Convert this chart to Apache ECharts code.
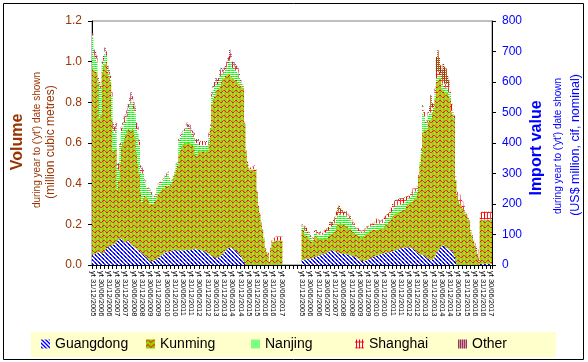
<!DOCTYPE html>
<html><head><meta charset="utf-8">
<script src="https://cdn.jsdelivr.net/npm/echarts@6/dist/echarts.min.js"></script>
<style>html,body{margin:0;padding:0;background:#fff}#c{width:588px;height:362px}</style>
</head><body><div id="c"></div>
<script>
const dateLabels = ['yt 31/12/2005','yt 30/06/2006','yt 31/12/2006','yt 30/06/2007','yt 31/12/2007','yt 30/06/2008',
  'yt 31/12/2008','yt 30/06/2009','yt 31/12/2009','yt 30/06/2010','yt 31/12/2010','yt 30/06/2011',
  'yt 31/12/2011','yt 30/06/2012','yt 31/12/2012','yt 30/06/2013','yt 31/12/2013','yt 30/06/2014',
  'yt 31/12/2014','yt 30/06/2015','yt 31/12/2015','yt 30/06/2016','yt 31/12/2016','yt 30/06/2017'];
const seriesNames = ['Guangdong','Kunming','Nanjing','Shanghai','Other'];

// Volume (million cubic metres), monthly year-to-date, Dec 2005 .. Jun 2017
const volGuangdong = [
 .05,.052,.055,.058,.062,.065,.06,.058,.06,.07,
 .08,.088,.09,.092,.095,.1,.105,.11,.118,.125,
 .13,.128,.12,.112,.112,.118,.12,.11,.1,.095,
 .09,.085,.08,.075,.07,.062,.058,.052,.045,.04,
 .032,.025,.018,.015,.02,.025,.028,.03,.035,.04,
 .045,.05,.058,.062,.065,.062,.065,.068,.07,.072,
 .074,.072,.07,.072,.074,.072,.07,.072,.074,.075,
 .074,.072,.074,.076,.078,.08,.078,.076,.075,.072,
 .07,.068,.066,.062,.058,.052,.048,.045,.042,.038,
 .035,.034,.038,.042,.048,.055,.062,.07,.078,.082,
 .085,.084,.082,.078,.072,.068,.06,.052,.045,.035,
 .02,.008,0,0,0,0,0,0,0,0,
 0,0,0,0,0,0,0,0,0,0,
 0,0,0,0,0,0,0,0,0];
const volKunming = [
 .92,.908,.895,.892,.838,.655,.68,.892,.92,.92,
 .92,.862,.84,.808,.625,.46,.455,.46,.252,.295,
 .37,.452,.48,.508,.528,.542,.55,.55,.56,.575,
 .57,.545,.47,.425,.38,.298,.252,.278,.295,.3,
 .298,.295,.282,.285,.28,.285,.292,.31,.315,.32,
 .325,.33,.322,.328,.325,.328,.325,.332,.34,.358,
 .376,.398,.42,.478,.486,.508,.52,.528,.526,.525,
 .526,.528,.516,.514,.502,.46,.462,.484,.485,.488,
 .49,.492,.494,.498,.502,.538,.622,.745,.778,.792,
 .825,.826,.832,.838,.852,.865,.858,.86,.862,.858,
 .855,.846,.838,.842,.838,.842,.84,.838,.835,.84,
 .85,.682,.56,.5,.48,.47,.47,.47,.47,.46,
 .36,.29,.25,.21,.17,.13,.08,.065,.05,.016,
 .08,.11,.115,.12,.12,.12,.12,.12,.12];
const volNanjing = [
 .15,.07,.07,.05,.01,.17,.13,.03,.03,.05,
 .03,.01,.01,.01,.11,.11,.09,.1,.11,.05,
 .08,.08,.08,.08,.07,.07,.09,.13,.15,.13,
 .11,.12,.12,.15,.14,.1,.14,.12,.07,.045,
 .045,.055,.06,.05,.035,.025,.025,.035,.045,.045,
 .035,.035,.045,.045,.05,.06,.035,.008,.008,.008,
 .008,.025,.016,.06,.07,.06,.06,.06,.075,.08,
 .07,.07,.06,.05,.05,.06,.06,.035,.03,.03,
 .03,.03,.03,.03,.03,.04,.01,.04,.04,.05,
 .04,.03,.03,.05,.045,.02,.03,.03,.035,.05,
 .07,.07,.05,.05,.05,.045,.045,.03,.02,.01,
 .006,.005,.002,.002,.002,.002,.002,.002,.002,.002,
 .001,.001,.001,.001,.001,.001,.001,.001,.001,.001,
 .001,.001,.001,.001,.001,.001,.001,.001,.001];
const volShanghai = [
 .01,.01,.015,.015,.005,.005,.005,.01,.01,.01,
 .01,.01,.01,.01,.01,.01,.01,.01,.01,.015,
 .01,.01,.01,.015,.015,.015,.015,.015,.02,.015,
 .015,.015,.015,.015,.015,.02,.02,.01,.005,.003,
 .003,.003,.007,.007,.003,.003,.003,.003,.003,.003,
 .003,.003,.003,.003,.005,.005,.003,.001,.001,.001,
 .001,.003,.002,.005,.005,.005,.005,.005,.01,.01,
 .01,.01,.01,.01,.01,.01,.01,.015,.015,.015,
 .015,.015,.015,.015,.015,.015,.005,.01,.01,.01,
 .01,.01,.01,.02,.015,.01,.01,.01,.015,.015,
 .02,.02,.015,.015,.015,.015,.015,.01,.005,.003,
 .002,.003,.002,.006,.006,.006,.006,.01,.015,.006,
 .003,.003,.003,.003,.003,.003,.003,.008,.008,.002,
 .003,.008,.013,.013,.018,.018,.018,.018,.018];
const volOther = [
 .01,.02,.015,.015,.005,.005,.005,.01,.01,.02,
 .01,.01,.01,.01,.01,.02,.02,.02,.01,.015,
 .01,.01,.01,.015,.015,.015,.015,.015,.02,.015,
 .015,.015,.015,.015,.015,.01,.01,.01,.005,.002,
 .002,.002,.003,.003,.002,.002,.002,.002,.002,.002,
 .002,.002,.002,.002,.005,.005,.002,.001,.001,.001,
 .001,.002,.002,.005,.005,.005,.005,.005,.005,.01,
 .01,.01,.01,.01,.01,.01,.01,.01,.005,.005,
 .005,.005,.005,.005,.005,.005,.005,.01,.01,.01,
 .01,.01,.01,.01,.01,.01,.01,.01,.01,.015,
 .03,.02,.015,.015,.015,.01,.01,.01,.005,.002,
 .002,.002,.001,.002,.002,.002,.002,.003,.003,.002,
 .001,.001,.001,.001,.001,.001,.001,.001,.001,.001,
 .001,.001,.001,.001,.001,.001,.001,.001,.001];

// Import value (US$ million, cif, nominal), monthly year-to-date, Dec 2005 .. Jun 2017
const valGuangdong = [
 16,16,18,20,20,20,20,22,24,26,
 27,28,30,32,34,35,36,38,40,42,
 45,48,48,46,44,42,40,39,38,37,
 36,35,35,34,33,32,31,30,28,26,
 24,20,17,15,13,13,14,16,18,20,
 22,24,26,28,30,31,32,34,36,37,
 38,39,40,41,42,43,44,46,48,50,
 52,54,55,56,56,57,57,58,57,56,
 55,54,50,45,40,36,34,33,33,32,
 28,24,20,18,16,18,22,30,38,45,
 50,58,62,65,60,56,55,52,48,45,
 44,30,10,0,0,0,0,0,0,0,
 0,0,0,0,0,0,0,0,0,0,
 4,4,4,4,4,4,4,4,4];
const valKunming = [
 99,96,80,75,73,70,60,54,56,68,
 69,62,58,55,53,51,49,47,46,50,
 53,50,56,62,68,83,94,97,100,95,
 95,95,93,90,87,86,81,79,78,74,
 74,76,76,77,80,81,86,88,88,90,
 92,91,89,87,85,84,86,86,84,85,
 88,92,94,99,106,110,116,120,121,122,
 123,121,121,122,124,129,138,144,147,150,
 152,158,168,179,200,253,293,327,404,416,
 414,421,449,457,464,482,488,516,562,561,
 561,553,518,508,508,512,510,503,498,455,
 447,450,268,229,210,202,195,185,180,168,
 164,150,142,109,93,80,65,50,33,11,
 143,143,143,143,143,143,143,143,143];
const valNanjing = [
 12,12,16,16,12,12,13,8,6,10,
 10,10,12,14,12,14,18,22,22,20,
 26,28,24,28,28,28,30,34,30,32,
 32,32,34,34,34,32,28,24,24,20,
 16,16,15,14,14,14,14,16,16,15,
 15,15,16,18,22,20,18,16,18,16,
 18,20,20,18,18,22,22,24,24,22,
 22,22,22,22,22,20,18,16,16,16,
 20,24,22,18,10,2,14,18,60,40,
 22,22,20,24,20,10,8,14,12,14,
 12,10,16,16,14,14,14,12,14,6,
 3,2,2,1,1,1,1,1,1,1,
 1,1,1,1,1,1,1,1,1,1,
 2,2,2,2,2,2,2,2,2];
const valShanghai = [
 3,3,4,4,3,3,3,2,3,4,
 4,3,3,4,3,3,6,8,8,9,
 12,12,8,8,8,10,10,10,8,8,
 8,8,9,8,8,7,7,5,4,3,
 4,6,5,4,4,5,4,4,4,3,
 4,4,5,7,13,13,10,7,8,10,
 12,11,10,10,10,13,15,17,17,17,
 16,18,19,17,17,14,10,6,6,8,
 11,13,9,8,8,3,3,3,22,10,
 4,6,10,11,15,6,4,10,20,14,
 10,8,14,16,12,12,14,15,5,22,
 6,6,9,9,17,26,18,23,13,2,
 2,2,2,3,3,3,5,8,17,9,
 20,25,25,25,25,25,25,25,25];
const valOther = [
 3,3,8,7,2,2,2,2,3,4,
 5,5,3,5,2,3,3,3,4,4,
 4,4,4,6,10,12,16,15,9,8,
 5,5,5,4,3,3,3,2,2,2,
 2,2,2,2,2,2,2,2,2,2,
 2,2,2,2,2,2,2,2,2,2,
 2,2,2,2,2,2,3,3,3,3,
 3,3,3,3,3,2,2,2,2,2,
 2,2,2,2,2,1,1,1,5,4,
 2,2,3,10,42,14,5,8,50,70,
 47,26,30,55,56,50,27,24,3,2,
 2,2,1,1,1,1,1,1,1,1,
 1,1,1,1,1,1,1,1,1,1,
 1,1,1,1,1,1,1,1,1];

const N = volGuangdong.length;
const GAP = 14;
const TOTAL = N + GAP + N;
const RIGHT0 = N + GAP;
const cats = [];
for (let i = 0; i < TOTAL; i++) cats.push('c' + i);
function localIdx(index) {
  if (index < N) return index;
  if (index >= RIGHT0) return index - RIGHT0;
  return -1;
}

function tile(w, h, bg, fg, test) {
  const c = document.createElement('canvas');
  c.width = w; c.height = h;
  const g = c.getContext('2d');
  g.fillStyle = bg; g.fillRect(0, 0, w, h);
  g.fillStyle = fg;
  for (let y = 0; y < h; y++) for (let x = 0; x < w; x++) if (test(x, y)) g.fillRect(x, y, 1, 1);
  return { image: c, repeat: 'repeat' };
}
const wave = [1, 0, 0, 1, 2, 2];
const pat = {
  Guangdong: tile(4, 4, '#ffffff', '#0000ff', (x, y) => ((x - y) % 4 + 4) % 4 < 2),
  Kunming: tile(6, 5, '#99cc00', '#ff0000', (x, y) => wave[x] === y),
  Nanjing: tile(2, 2, '#ffffff', '#00ff00', (x, y) => y === 0),
  Shanghai: tile(6, 6, '#ffffff', '#ff0000', (x, y) => x === 1 || x === 4 || y === 2),
  Other: tile(2, 2, '#ffffcc', '#993366', (x, y) => !(x === 1 && y === 1)),
  OtherR: tile(2, 2, '#ffffcc', '#993300', (x, y) => !(x === 1 && y === 1))
};

function bar(name, data, axis, color, left) {
  const pad = new Array(GAP + N).fill(null);
  const full = left ? data.concat(pad) : pad.concat(data);
  return {
    name, type: 'bar', stack: 'all', yAxisIndex: axis, data: full,
    barCategoryGap: '0%', barGap: '0%', itemStyle: { color },
    emphasis: { disabled: true }, animation: false, silent: true
  };
}

const volData = [volGuangdong, volKunming, volNanjing, volShanghai, volOther];
const valData = [valGuangdong, valKunming, valNanjing, valShanghai, valOther];
const series = [];
seriesNames.forEach((n, k) => series.push(bar(n, volData[k], 0, pat[n], true)));
seriesNames.forEach((n, k) => series.push(bar(n, valData[k], 1, n === 'Other' ? pat.OtherR : pat[n], false)));

const FF = '"Liberation Sans", Arial, sans-serif';
const legendLefts = [41, 146, 251, 355, 458];
const legends = seriesNames.map((n, k) => ({
  data: [n], left: legendLefts[k], top: 337, orient: 'horizontal',
  padding: 0, itemWidth: 9, itemHeight: 9, itemGap: 5, icon: 'rect', selectedMode: false,
  textStyle: { fontSize: 14, color: '#000', fontFamily: FF }
}));

const chart = echarts.init(document.getElementById('c'), null, { renderer: 'canvas' });
chart.setOption({
  animation: false,
  backgroundColor: '#ffffff',
  textStyle: { fontFamily: FF },
  grid: { left: 92, right: 96, top: 21, bottom: 97, show: true, borderColor: '#808080', borderWidth: 1, backgroundColor: 'transparent', containLabel: false },
  xAxis: {
    type: 'category', data: cats, boundaryGap: true,
    axisLine: { show: true, lineStyle: { color: '#000', width: 1 } },
    axisTick: { show: true, interval: 2, length: 4, lineStyle: { color: '#000', width: 1 } },
    axisLabel: {
      show: true, rotate: -90, fontSize: 7.5, color: '#000', fontFamily: FF, margin: 6, hideOverlap: false,
      interval: (index) => { const l = localIdx(index); return l >= 0 && l % 6 === 0; },
      formatter: (value, index) => { const l = localIdx(index); return (l >= 0 && l % 6 === 0) ? dateLabels[l / 6] : ''; }
    },
    splitLine: { show: false }
  },
  yAxis: [
    {
      type: 'value', min: 0, max: 1.2, interval: 0.2, position: 'left',
      axisLine: { show: true, lineStyle: { color: '#000', width: 1 } },
      axisTick: { show: true, inside: false, length: 4, lineStyle: { color: '#000' } },
      axisLabel: { color: '#993300', fontSize: 12, fontFamily: FF, margin: 10, formatter: v => v.toFixed(1) },
      splitLine: { show: false }
    },
    {
      type: 'value', min: 0, max: 800, interval: 100, position: 'right',
      axisLine: { show: true, lineStyle: { color: '#000', width: 1 } },
      axisTick: { show: true, inside: false, length: 4, lineStyle: { color: '#000' } },
      axisLabel: { color: '#0000ff', fontSize: 12, fontFamily: FF, margin: 10 },
      splitLine: { show: false }
    }
  ],
  legend: legends,
  series,
  graphic: [
    { type: 'rect', shape: { x: 31, y: 332, width: 525, height: 25 }, style: { fill: '#ffffcc' }, z: -10, silent: true },
    { type: 'rect', shape: { x: 3.5, y: 3.5, width: 580, height: 356 }, style: { fill: 'none', stroke: '#000', lineWidth: 1 }, z: 100, silent: true },
    { type: 'text', x: 18, y: 142, rotation: Math.PI / 2, style: { text: 'Volume', font: 'bold 16px ' + FF, fill: '#993300', align: 'center', verticalAlign: 'middle' } },
    { type: 'text', x: 37, y: 140, rotation: Math.PI / 2, style: { text: "during year to ('yt') date shown", font: '10px ' + FF, fill: '#993300', align: 'center', verticalAlign: 'middle' } },
    { type: 'text', x: 51, y: 142, rotation: Math.PI / 2, style: { text: '(million cubic metres)', font: '12px ' + FF, fill: '#993300', align: 'center', verticalAlign: 'middle' } },
    { type: 'text', x: 537, y: 148, rotation: Math.PI / 2, style: { text: 'Import value', font: 'bold 16px ' + FF, fill: '#0000ff', align: 'center', verticalAlign: 'middle' } },
    { type: 'text', x: 558, y: 146, rotation: Math.PI / 2, style: { text: "during year to ('yt') date shown", font: '10px ' + FF, fill: '#0000ff', align: 'center', verticalAlign: 'middle' } },
    { type: 'text', x: 576, y: 145, rotation: Math.PI / 2, style: { text: '(US$ million, cif, nominal)', font: '12.5px ' + FF, fill: '#0000ff', align: 'center', verticalAlign: 'middle' } }
  ]
});
</script></body></html>
